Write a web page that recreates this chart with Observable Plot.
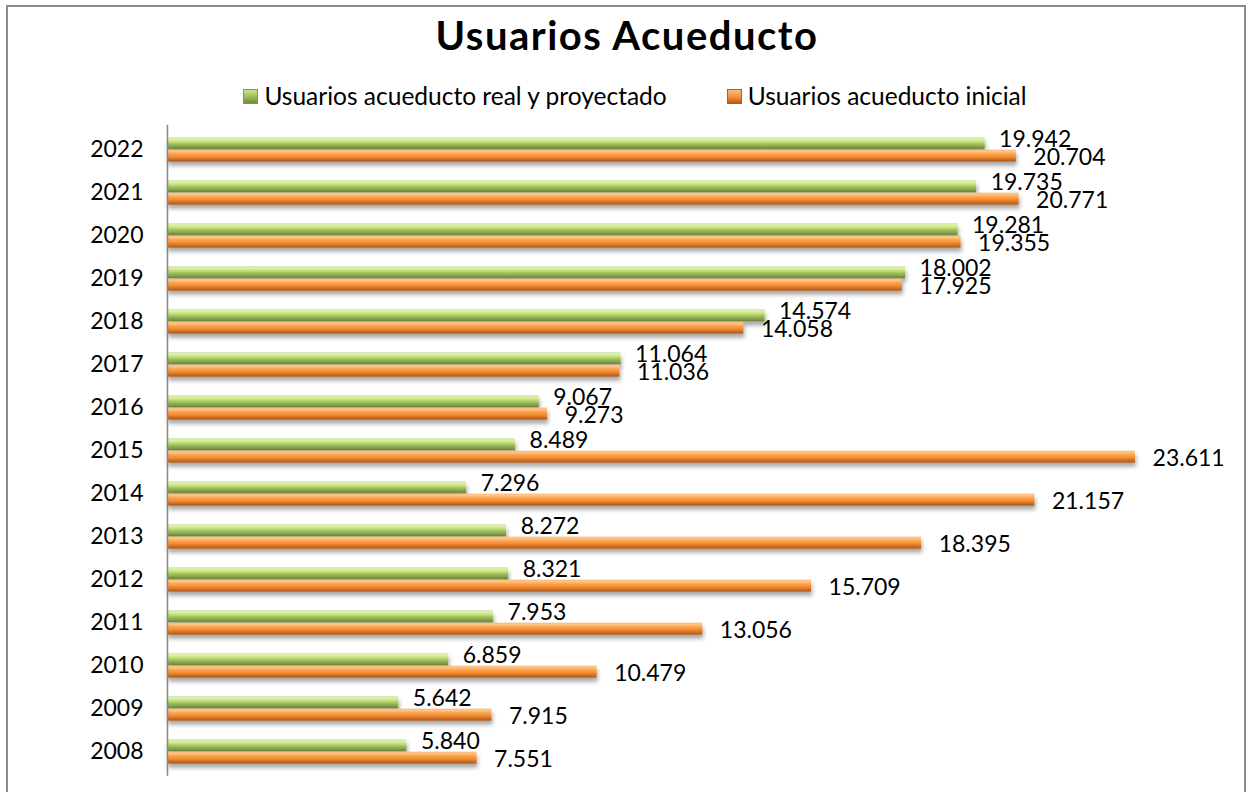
<!DOCTYPE html>
<html>
<head>
<meta charset="utf-8">
<script src="https://cdn.jsdelivr.net/npm/d3@7"></script>
<script src="https://cdn.jsdelivr.net/npm/@observablehq/plot@0.6"></script>
<style>
  html, body { margin: 0; padding: 0; background: #fff; }
  body { width: 1249px; height: 792px; overflow: hidden; position: relative; font-family: Lato, "Open Sans", sans-serif; }
  #frame { position: absolute; left: 6px; top: 5px; width: 1236px; height: 800px; border: 2px solid #8c8c8c; }
  #title { position: absolute; left: 0; width: 1254px; top: 15px; text-align: center; font-weight: bold; font-size: 40px; line-height: 40px; letter-spacing: 1.5px; color: #000; }
  #legend { position: absolute; left: 0; width: 1270px; top: 84px; display: flex; justify-content: center; gap: 60px; font-size: 24.5px; line-height: 24px; color: #000; }
  #legend .item { display: flex; align-items: center; }
  #legend .sw { width: 15px; height: 15px; margin-right: 6px; box-sizing: border-box; }
  #chart { position: absolute; left: 8px; top: 110px; }
</style>
</head>
<body>
<div id="frame"></div>
<div id="title">Usuarios Acueducto</div>
<div id="legend"></div>
<div id="chart"></div>
<script>
const years = ["2008","2009","2010","2011","2012","2013","2014","2015","2016","2017","2018","2019","2020","2021","2022"];
const realProyectado = [5840, 5642, 6859, 7953, 8321, 8272, 7296, 8489, 9067, 11064, 14574, 18002, 19281, 19735, 19942];
const inicial = [7551, 7915, 10479, 13056, 15709, 18395, 21157, 23611, 9273, 11036, 14058, 17925, 19355, 20771, 20704];
const seriesNames = ["Usuarios acueducto real y proyectado", "Usuarios acueducto inicial"];

const fmt = d3.formatLocale({decimal: ",", thousands: ".", grouping: [3], currency: ["", ""]}).format(",d");

const dataReal = years.map((y, i) => ({year: y, value: realProyectado[i]}));
const dataIni = years.map((y, i) => ({year: y, value: inicial[i]}));

// legend
const legend = document.getElementById("legend");
[["linear-gradient(#c9e58e, #9bbb59 55%, #6f8c3a)", "#7d9a48", seriesNames[0]],
 ["linear-gradient(#fbbf7c, #f68d36 55%, #b85a18)", "#b85a18", seriesNames[1]]].forEach(([bg, bd, name]) => {
  const it = document.createElement("div"); it.className = "item";
  const sw = document.createElement("div"); sw.className = "sw"; sw.style.background = bg; sw.style.border = "1px solid " + bd;
  const tx = document.createElement("span"); tx.textContent = name;
  it.appendChild(sw); it.appendChild(tx); legend.appendChild(it);
});

const W = 1234, H = 680;
const mTop = 14.8, bandH = 43.4, mBottom = H - mTop - bandH * years.length;
const half = bandH / 2, barT = 12.3;

const plot = Plot.plot({
  width: W, height: H,
  marginLeft: 159, marginRight: 50, marginTop: mTop, marginBottom: mBottom,
  style: {fontFamily: "Lato, 'Open Sans', sans-serif", fontSize: "23px", color: "#000", background: "transparent"},
  x: {domain: [0, 25000], axis: null},
  y: {domain: years.slice().reverse(), padding: 0, label: null, tickSize: 0, tickPadding: 24},
  marks: [
    Plot.barX(dataReal, {x: "value", y: "year", fill: "url(#gradGreen)", insetTop: half - barT, insetBottom: half}),
    Plot.barX(dataIni, {x: "value", y: "year", fill: "url(#gradOrange)", insetTop: half, insetBottom: half - barT}),
    Plot.ruleX([0], {stroke: "#868686", strokeWidth: 1.5}),
    Plot.text(dataReal, {x: "value", y: "year", text: d => fmt(d.value), textAnchor: "start", dx: 14, dy: -10, fontSize: 23, fill: "#000"}),
    Plot.text(dataIni, {x: "value", y: "year", text: d => fmt(d.value), textAnchor: "start", dx: 17, dy: 8, fontSize: 23, fill: "#000"})
  ]
});

const defs = `
<defs>
  <linearGradient id="gradGreen" x1="0" y1="0" x2="0" y2="1">
    <stop offset="0" stop-color="#c2d89a"/>
    <stop offset="0.12" stop-color="#e2f5a8"/>
    <stop offset="0.35" stop-color="#c3e07e"/>
    <stop offset="0.6" stop-color="#9bbb59"/>
    <stop offset="0.85" stop-color="#7a9846"/>
    <stop offset="1" stop-color="#657f38"/>
  </linearGradient>
  <linearGradient id="gradOrange" x1="0" y1="0" x2="0" y2="1">
    <stop offset="0" stop-color="#f6b27a"/>
    <stop offset="0.12" stop-color="#ffc987"/>
    <stop offset="0.35" stop-color="#fba451"/>
    <stop offset="0.6" stop-color="#f28a32"/>
    <stop offset="0.85" stop-color="#c96a1e"/>
    <stop offset="1" stop-color="#a85514"/>
  </linearGradient>
  <filter id="barShadow" x="-5%" y="-50%" width="110%" height="250%">
    <feDropShadow dx="1" dy="4" stdDeviation="2" flood-color="#000" flood-opacity="0.35"/>
  </filter>
</defs>`;
plot.insertAdjacentHTML("afterbegin", defs);
d3.select(plot).selectAll('g[aria-label="bar"]').attr("filter", "url(#barShadow)");
document.getElementById("chart").appendChild(plot);
</script>
</body>
</html>
